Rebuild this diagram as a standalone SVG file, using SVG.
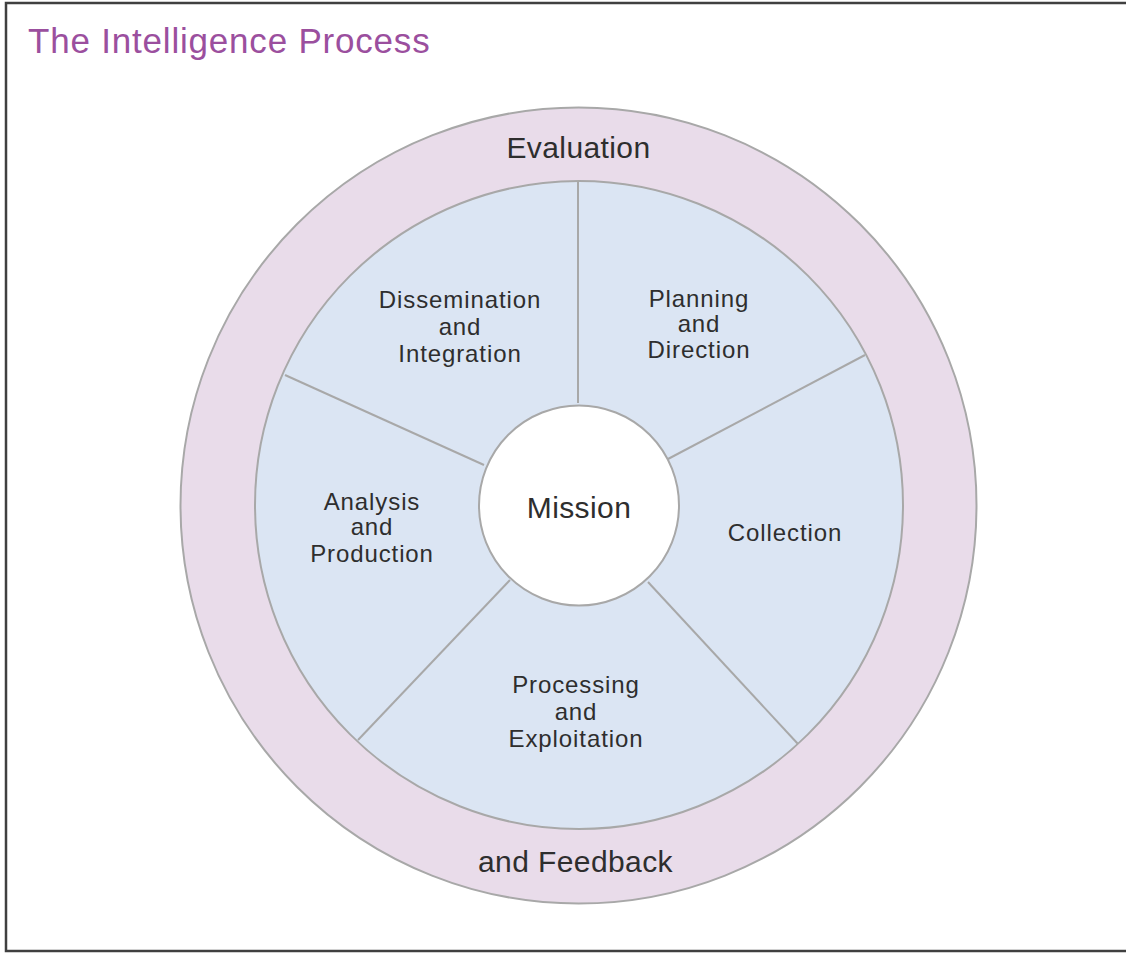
<svg xmlns="http://www.w3.org/2000/svg" width="1126" height="953" viewBox="0 0 1126 953">
<style>
.lbl{font-family:"Liberation Sans",Arial,sans-serif;fill:#2e2e2e;text-anchor:middle}
.big{font-size:30px;letter-spacing:0.4px}
.seg{font-size:24px;letter-spacing:0.9px}
.edge{stroke:#a8a8a8;stroke-width:2;fill:none}
</style>
<rect x="0" y="0" width="1126" height="953" fill="#ffffff"/>
<rect x="6" y="3" width="1130" height="948" fill="none" stroke="#404040" stroke-width="2.5"/>
<text x="28" y="53" font-family="Liberation Sans,Arial,sans-serif" font-size="35" letter-spacing="0.8" fill="#9b4f9e">The Intelligence Process</text>
<g id="evaluation">
<circle cx="578.5" cy="505.5" r="398" fill="#e9dcea" stroke="#a8a8a8" stroke-width="2"/>
<text class="lbl big" x="578.5" y="158">Evaluation</text>
<text class="lbl big" x="575.5" y="872">and Feedback</text>
</g>
<g id="cycle">
<circle cx="579" cy="505" r="324" fill="#dbe5f3" stroke="#a8a8a8" stroke-width="2"/>
</g>
<g id="connectors">
<line class="edge" x1="578" y1="181" x2="578" y2="403"/>
<line class="edge" x1="668" y1="459" x2="865" y2="355"/>
<line class="edge" x1="648" y1="582" x2="798" y2="744"/>
<line class="edge" x1="510" y1="580" x2="358" y2="740"/>
<line class="edge" x1="484" y1="465" x2="285" y2="375"/>
</g>
<g id="mission">
<circle cx="579" cy="505.5" r="100" fill="#ffffff" stroke="#a8a8a8" stroke-width="2"/>
<text class="lbl big" x="579" y="518">Mission</text>
</g>
<g id="planning">
<text class="lbl seg" x="699" y="307">Planning</text>
<text class="lbl seg" x="699" y="332">and</text>
<text class="lbl seg" x="699" y="358">Direction</text>
</g>
<g id="collection">
<text class="lbl seg" x="785" y="541">Collection</text>
</g>
<g id="processing">
<text class="lbl seg" x="576" y="693">Processing</text>
<text class="lbl seg" x="576" y="720">and</text>
<text class="lbl seg" x="576" y="747">Exploitation</text>
</g>
<g id="analysis">
<text class="lbl seg" x="372" y="510">Analysis</text>
<text class="lbl seg" x="372" y="535">and</text>
<text class="lbl seg" x="372" y="562">Production</text>
</g>
<g id="dissemination">
<text class="lbl seg" x="460" y="308">Dissemination</text>
<text class="lbl seg" x="460" y="335">and</text>
<text class="lbl seg" x="460" y="362">Integration</text>
</g>
</svg>
